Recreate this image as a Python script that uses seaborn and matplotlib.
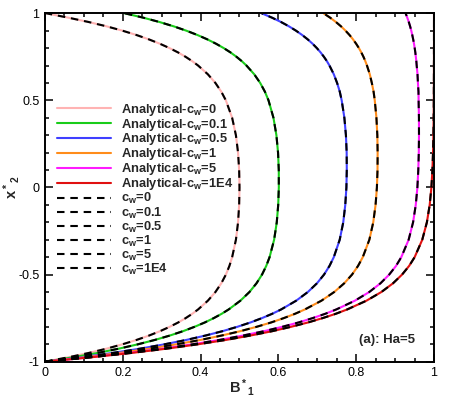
import numpy as np
import pandas as pd
import matplotlib
matplotlib.use("Agg")
import matplotlib.pyplot as plt
import seaborn as sns

# x*_2 positions (shared by every curve)
x2 = [-1.0, -0.975, -0.95, -0.925, -0.9, -0.875, -0.85, -0.825, -0.8, -0.775, -0.75, -0.725, -0.7, -0.65, -0.6,
      -0.55, -0.5, -0.45, -0.4, -0.3, -0.2, -0.1, 0.0, 0.1, 0.2, 0.3, 0.4, 0.5, 0.55, 0.6, 0.65, 0.7, 0.725,
      0.75, 0.775, 0.8, 0.825, 0.85, 0.875, 0.9, 0.925, 0.95, 0.975, 1.0]

# B*_1 for each wall conductance ratio
b_cw0 = [0, 0.0595, 0.1121, 0.1585, 0.1994, 0.2355, 0.2674, 0.2955, 0.3203, 0.3423, 0.3615, 0.3786, 0.3936, 0.4186,
         0.4381, 0.4532, 0.4650, 0.4741, 0.4811, 0.4908, 0.4963, 0.4991, 0.5, 0.4991, 0.4963, 0.4908, 0.4811, 0.4650,
         0.4532, 0.4381, 0.4186, 0.3936, 0.3786, 0.3615, 0.3423, 0.3203, 0.2955, 0.2674, 0.2355, 0.1994, 0.1585,
         0.1121, 0.0595, 0.003]
b_cw01 = [0, 0.0714, 0.1345, 0.1903, 0.2392, 0.2826, 0.3208, 0.3546, 0.3842, 0.4106, 0.4337, 0.4542, 0.4722, 0.5022,
          0.5256, 0.5437, 0.5579, 0.5688, 0.5773, 0.5890, 0.5958, 0.5995, 0.6011, 0.6010, 0.5991, 0.5949, 0.5873,
          0.5746, 0.5653, 0.5532, 0.5378, 0.5179, 0.5060, 0.4924, 0.4771, 0.4596, 0.4399, 0.4176, 0.3922, 0.3635,
          0.3310, 0.2941, 0.2523, 0.205]
b_cw05 = [0, 0.0918, 0.1729, 0.2449, 0.3075, 0.3635, 0.4124, 0.4560, 0.4940, 0.5280, 0.5575, 0.5841, 0.6071, 0.6456,
          0.6757, 0.6991, 0.7173, 0.7314, 0.7424, 0.7576, 0.7667, 0.7719, 0.7748, 0.7758, 0.7755, 0.7736, 0.7696,
          0.7627, 0.7578, 0.7509, 0.7424, 0.7313, 0.7247, 0.7171, 0.7086, 0.6989, 0.6879, 0.6755, 0.6613, 0.6453,
          0.6272, 0.6067, 0.5834, 0.557]
b_cw1 = [0, 0.1010, 0.1902, 0.2695, 0.3383, 0.4001, 0.4537, 0.5018, 0.5436, 0.5811, 0.6136, 0.6427, 0.6681, 0.7105,
         0.7435, 0.7692, 0.7893, 0.8048, 0.8169, 0.8338, 0.8438, 0.8498, 0.8532, 0.8548, 0.8551, 0.8543, 0.8520,
         0.8477, 0.8447, 0.8402, 0.8349, 0.8277, 0.8235, 0.8187, 0.8132, 0.8070, 0.7999, 0.7919, 0.7829, 0.7726,
         0.7610, 0.7478, 0.7329, 0.716]
b_cw5 = [0, 0.1132, 0.2133, 0.3023, 0.3794, 0.4486, 0.5086, 0.5627, 0.6094, 0.6515, 0.6878, 0.7205, 0.7489, 0.7965,
         0.8336, 0.8624, 0.8848, 0.9024, 0.9159, 0.9348, 0.9462, 0.9531, 0.9573, 0.9596, 0.9609, 0.9614, 0.9613,
         0.9604, 0.9601, 0.9587, 0.9576, 0.9555, 0.9546, 0.9533, 0.9520, 0.9504, 0.9486, 0.9465, 0.9442, 0.9416,
         0.9386, 0.9352, 0.9313, 0.927]
b_cw1e4 = [0, 0.1175, 0.2212, 0.3136, 0.3935, 0.4654, 0.5276, 0.5837, 0.6321, 0.6758, 0.7135, 0.7475, 0.7769, 0.8262,
           0.8647, 0.8946, 0.9179, 0.9361, 0.9502, 0.9698, 0.9817, 0.9889, 0.9933, 0.9959, 0.9975, 0.9985, 0.9991,
           0.9995, 0.9996, 0.9997, 0.9998, 0.9998, 0.9999, 0.9999, 0.9999, 0.9999, 1.0, 1.0, 1.0, 1.0, 1.0, 1.0,
           1.0, 1.0]

cw_labels = ["0", "0.1", "0.5", "1", "5", "1E4"]
curves = [b_cw0, b_cw01, b_cw05, b_cw1, b_cw5, b_cw1e4]
colors = ["#ffb3b3", "#19cc19", "#3f3fff", "#ff8c1a", "#ff1aff", "#e01010"]

sns.set_theme(style="ticks")
plt.rcParams["font.family"] = ["Liberation Sans", "DejaVu Sans"]
plt.rcParams["mathtext.fontset"] = "custom"
plt.rcParams["mathtext.rm"] = "Liberation Sans:bold"
plt.rcParams["mathtext.bf"] = "Liberation Sans:bold"
plt.rcParams["mathtext.it"] = "Liberation Sans:bold"
plt.rcParams["mathtext.default"] = "bf"

fig = plt.figure(figsize=(4.49, 3.99), dpi=100)
ax = fig.add_axes([0.1002, 0.0935, 0.8664, 0.8732])

# analytical solutions (solid colour)
for vals, lab, col in zip(curves, cw_labels, colors):
    df = pd.DataFrame({"B": vals, "x2": x2})
    sns.lineplot(data=df, x="B", y="x2", sort=False, estimator=None, color=col,
                 linewidth=1.5, label=f"Analytical-c$_w$={lab}", ax=ax)

# simulation results (black dashed on top)
for vals, lab in zip(curves, cw_labels):
    df = pd.DataFrame({"B": vals, "x2": x2})
    sns.lineplot(data=df, x="B", y="x2", sort=False, estimator=None, color="black",
                 linewidth=1.5, linestyle=(0, (3.6, 2.8)), label=f"c$_w$={lab}", ax=ax)

ax.set_xlim(0, 1)
ax.set_ylim(-1, 1)
ax.set_xticks(np.arange(0, 1.01, 0.2))
ax.set_xticklabels(["0", "0.2", "0.4", "0.6", "0.8", "1"])
ax.set_yticks([-1, -0.5, 0, 0.5, 1])
ax.set_yticklabels(["-1", "-0.5", "0", "0.5", "1"])
ax.set_xticks(np.arange(0, 1.001, 0.05), minor=True)
ax.set_yticks(np.arange(-1, 1.001, 0.1), minor=True)
ax.tick_params(which="both", direction="in", top=True, right=True, width=1.1, labelsize=9, colors="black")
ax.tick_params(which="major", length=6, pad=4)
ax.tick_params(which="minor", length=3)
for sp in ax.spines.values():
    sp.set_linewidth(1.4)
    sp.set_color("black")

ax.set_xlabel("B$^*$$_1$", fontsize=10.5, fontweight="bold")
ax.set_ylabel("x$^*$$_2$", fontsize=10.5, fontweight="bold")
ax.xaxis.set_label_coords(0.506, -0.045)
ax.yaxis.set_label_coords(-0.06, 0.5)

ax.text(0.88, -0.875, "(a): Ha=5", fontsize=9.5, fontweight="bold", ha="center", va="center")

leg = ax.legend(loc="upper left", bbox_to_anchor=(0.0, 0.78), frameon=False,
                fontsize=9.3, handlelength=4.2, labelspacing=-0.08, handletextpad=0.75,
                borderpad=0, borderaxespad=0.9)
for t in leg.get_texts():
    t.set_fontweight("bold")

fig.savefig("out.png", dpi=100)
